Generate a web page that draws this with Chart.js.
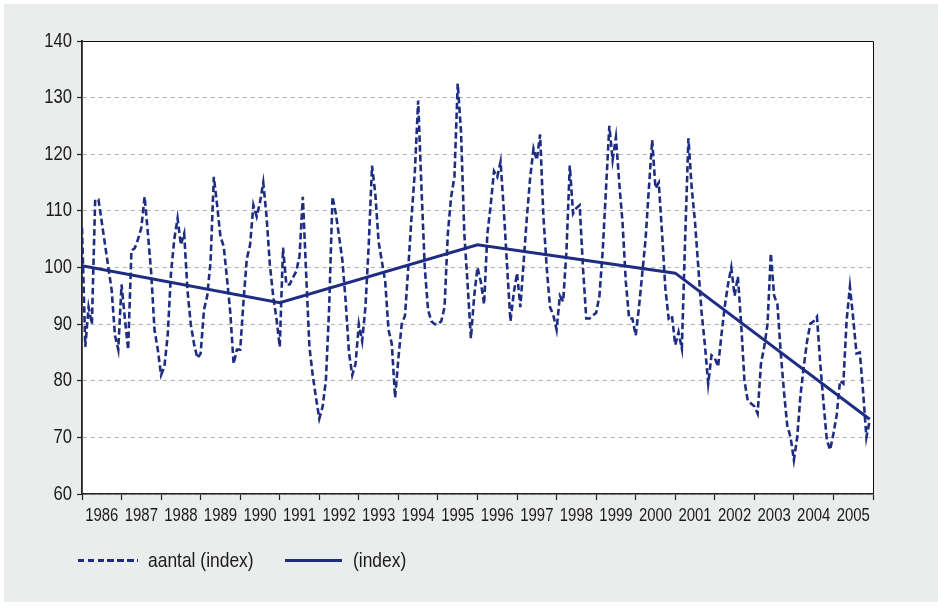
<!DOCTYPE html>
<html>
<head>
<meta charset="utf-8">
<script src="https://cdn.jsdelivr.net/npm/chart.js@4"></script>
<style>
  html, body { margin: 0; padding: 0; background: #ffffff; }
  #wrap { position: relative; width: 938px; height: 608px; overflow: hidden; }
  #bg { position: absolute; left: 4px; top: 4px; width: 934px; height: 598px; background: #ebecec; }
  #c { position: absolute; left: 0; top: 0; }
  .lg { position: absolute; font-family: 'Liberation Sans', Arial, sans-serif; font-size: 21px; color: #1a1a1a; line-height: 24px; white-space: nowrap; transform: scaleX(0.83); transform-origin: 0 50%; }
  .sw { position: absolute; height: 3px; }
</style>
</head>
<body>
<div id="wrap">
  <div id="bg"></div>
  <canvas id="c" width="938" height="608"></canvas>
  <div class="sw" id="sw1" style="left:78px; top:559px; width:60px; background: repeating-linear-gradient(90deg, #1e2d82 0 6.5px, transparent 6.5px 9.8px);"></div>
  <div class="lg" id="lg1" style="left:148px; top:548px;">aantal (index)</div>
  <div class="sw" id="sw2" style="left:285px; top:559px; width:57px; background:#1e2d82;"></div>
  <div class="lg" id="lg2" style="left:353px; top:548px;">(index)</div>
</div>
<script>
// ---- data ----
const yearLabels = [1986,1987,1988,1989,1990,1991,1992,1993,1994,1995,1996,1997,1998,1999,2000,2001,2002,2003,2004,2005];

// monthly "aantal (index)" values, Jan..Dec per year
const v1986 = [107, 86, 93, 90, 112, 112, 108, 104, 100, 96, 88, 85.5];
const v1987 = [97, 91, 85.5, 103, 103.4, 105, 107, 112.5, 106, 99, 89, 85.5];
const v1988 = [81, 82.5, 88, 99, 105, 108.7, 104, 106, 96, 90, 86.5, 84];
const v1989 = [84.8, 92.5, 95, 101, 116, 111, 105.5, 103.7, 98, 92, 83, 85.5];
const v1990 = [85.5, 94, 101.5, 104, 111, 109, 111.5, 115, 109, 100.5, 95, 91];
const v1991 = [86, 103.5, 97, 97, 98.2, 99.3, 102, 112.5, 99, 86, 81, 77];
const v1992 = [73.3, 75.4, 80, 93, 112.5, 109.6, 105.5, 101.3, 94, 85, 81, 83];
const v1993 = [90, 87, 93, 104, 118, 113, 104.5, 101, 97.5, 89, 86.5, 77];
const v1994 = [84, 90, 91.5, 100, 109, 117, 129.5, 114, 100, 92.5, 90.5, 90];
const v1995 = [90, 90.5, 93, 106, 112.5, 116, 132.5, 124, 106, 97, 87.5, 95];
const v1996 = [100, 97.5, 93.5, 106, 111, 117, 116, 118.7, 110, 100, 90.5, 95.5];
const v1997 = [99, 93, 101, 109, 116, 121, 119, 123.5, 109, 100, 93, 91.6];
const v1998 = [89, 95, 94, 103, 118, 109.5, 110.5, 111, 100, 91, 91, 91.5];
const v1999 = [92, 95, 103, 114, 125, 119, 123, 115, 108, 97.5, 91, 91];
const v2000 = [88, 93, 99, 105, 114, 122.5, 114, 115, 106, 96.3, 91, 91.5];
const v2001 = [86.3, 88.6, 85.7, 105, 122.8, 114, 108, 100, 92, 86.3, 79.5, 84.5];
const v2002 = [84, 82.5, 88, 93, 97, 100, 95, 98.4, 90, 80, 76.5, 76];
const v2003 = [75.5, 74.2, 83, 86, 90, 102.5, 95, 93.5, 85, 78, 72, 70];
const v2004 = [66, 70, 77.5, 82.5, 87, 90.1, 90.5, 91.3, 83, 76, 69.5, 67.8];
const v2005 = [70.7, 74, 80, 79.5, 90.7, 96.6, 91, 84.8, 85, 78, 70, 73];

// piecewise trend "(index)": month offsets from Jan 1986 and values
const trendMonth = [0, 60, 120, 180, 239];
const trendValue = [100.3, 93.8, 104, 99, 73.2];

const yTicks = [60, 70, 80, 90, 100, 110, 120, 130, 140];

// ---- build ----
const aantal = [].concat(v1986, v1987, v1988, v1989, v1990, v1991, v1992, v1993, v1994, v1995,
                         v1996, v1997, v1998, v1999, v2000, v2001, v2002, v2003, v2004, v2005);
const aantalPts = aantal.map((v, i) => ({ x: i, y: v }));
const trendPts = trendMonth.map((m, i) => ({ x: m, y: trendValue[i] }));

const NAVY = '#1e2d82';
const FONT = "'Liberation Sans', Arial, sans-serif";

// narrow-font look: condense canvas text horizontally (the reference uses a narrow face)
const canvas = document.getElementById('c');
const ctx2d = canvas.getContext('2d');
const origFillText = ctx2d.fillText.bind(ctx2d);
ctx2d.fillText = function (text, x, y, maxWidth) {
  const w = ctx2d.measureText(String(text)).width * 0.83;
  return origFillText(text, x, y, maxWidth !== undefined ? Math.min(maxWidth, w) : w);
};

const framePlugin = {
  id: 'frame',
  beforeDraw(chart) {
    const { ctx, chartArea: a } = chart;
    ctx.save();
    ctx.fillStyle = '#ffffff';
    ctx.fillRect(a.left, a.top, a.right - a.left, a.bottom - a.top);
    ctx.restore();
  },
  afterDraw(chart) {
    const { ctx, chartArea: a } = chart;
    ctx.save();
    ctx.strokeStyle = '#111111';
    ctx.lineWidth = 1;
    ctx.beginPath();
    ctx.moveTo(a.left, a.top + 0.5);
    ctx.lineTo(a.right + 0.5, a.top + 0.5);
    ctx.lineTo(a.right + 0.5, a.bottom);
    ctx.stroke();
    ctx.restore();
  }
};

new Chart(canvas, {
  type: 'line',
  data: {
    datasets: [
      {
        label: 'aantal (index)',
        data: aantalPts,
        borderColor: NAVY,
        borderWidth: 2.6,
        borderDash: [6.5, 3.3],
        pointRadius: 0,
        tension: 0,
        fill: false
      },
      {
        label: '(index)',
        data: trendPts,
        borderColor: NAVY,
        borderWidth: 3,
        pointRadius: 0,
        tension: 0,
        fill: false
      }
    ]
  },
  options: {
    responsive: false,
    devicePixelRatio: 1,
    animation: false,
    layout: { padding: { left: 0, top: 41, right: 65, bottom: 74 } },
    plugins: {
      legend: { display: false },
      tooltip: { enabled: false }
    },
    scales: {
      x: {
        type: 'linear',
        min: 0,
        max: 240,
        afterFit(s) { s.height = 40; },
        afterBuildTicks(s) { s.ticks = yearLabels.map((y, i) => ({ value: i * 12 })).concat([{ value: 240 }]); },
        grid: { drawOnChartArea: false, drawTicks: true, tickLength: 6, tickColor: '#222222', tickWidth: 1.2 },
        border: { display: true, color: '#222222', width: 1.5 },
        ticks: {
          autoSkip: false,
          maxRotation: 0,
          minRotation: 0,
          padding: 5,
          labelOffset: 19.8,
          color: '#1a1a1a',
          font: { family: FONT, size: 18 },
          callback(value) {
            const idx = Math.round(value / 12);
            return idx < yearLabels.length ? String(yearLabels[idx]) : '';
          }
        }
      },
      y: {
        min: 60,
        max: 140,
        afterFit(s) { s.width = 82; },
        afterBuildTicks(s) { s.ticks = yTicks.map(v => ({ value: v })); },
        grid: { color: '#b3b3b3', lineWidth: 1, drawTicks: true, tickLength: 5, tickColor: '#222222', tickWidth: 1.2 },
        border: { display: true, color: '#222222', width: 1.8, dash: [4, 4] },
        ticks: {
          padding: 5,
          color: '#1a1a1a',
          font: { family: FONT, size: 20 }
        }
      }
    }
  },
  plugins: [framePlugin]
});
</script>
</body>
</html>
